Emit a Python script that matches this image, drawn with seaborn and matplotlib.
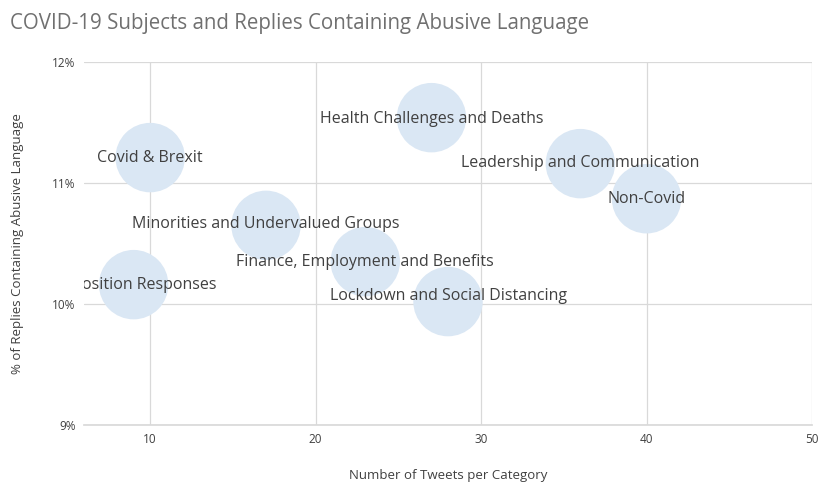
import matplotlib
matplotlib.use("Agg")
import matplotlib.pyplot as plt
import matplotlib.transforms as mtransforms
import seaborn as sns
import pandas as pd
from matplotlib.ticker import FuncFormatter

categories = ["Covid & Brexit", "Opposition Responses", "Minorities and Undervalued Groups",
              "Finance, Employment and Benefits", "Health Challenges and Deaths",
              "Lockdown and Social Distancing", "Leadership and Communication", "Non-Covid"]
tweets = [10, 9, 17, 23, 27, 28, 36, 40]
abusive_pct = [11.21, 10.16, 10.65, 10.35, 11.54, 10.02, 11.16, 10.87]
label_dy = [0, 0, 1, 0, -1, 6, 1, 0]

df = pd.DataFrame({"cat": categories, "x": tweets, "y": abusive_pct})

sns.set_theme(style="white")
plt.rcParams['font.family'] = ['Open Sans', 'DejaVu Sans']

fig = plt.figure(figsize=(8.18, 4.86), dpi=100)
ax = fig.add_axes([84/818, 1-425/486, (812-84)/818, (425-62)/486])

sns.scatterplot(data=df, x="x", y="y", s=2500, color="#DAE7F4", edgecolor="none",
                ax=ax, zorder=3, legend=False)

for c, xv, yv, dy in zip(categories, tweets, abusive_pct, label_dy):
    tr = mtransforms.offset_copy(ax.transData, fig=fig, x=0, y=dy, units="dots")
    ax.text(xv, yv, c, transform=tr, ha="center", va="center", fontsize=11.5,
            color="#404040", zorder=4, clip_on=True)

ax.set_xlim(6, 50)
ax.set_ylim(9, 12)
ax.set_xticks([10, 20, 30, 40, 50])
ax.set_yticks([9, 10, 11, 12])
ax.yaxis.set_major_formatter(FuncFormatter(lambda v, p: f"{v:.0f}%"))
ax.grid(True, color="#d9d9d9", linewidth=0.9, zorder=0)
ax.set_axisbelow(True)
for s in ["top", "right", "left"]:
    ax.spines[s].set_visible(False)
ax.spines["bottom"].set_color("#d9d9d9")
ax.tick_params(axis="both", length=0, labelsize=8.5, colors="#404040")
ax.tick_params(axis="x", pad=6)
ax.tick_params(axis="y", pad=6)

ax.set_xlabel("Number of Tweets per Category", fontsize=9.5, color="#404040", labelpad=16)
ax.set_ylabel("% of Replies Containing Abusive Language", fontsize=9.5, color="#404040", labelpad=20)

fig.text(10/818, 1-24/486, "COVID-19 Subjects and Replies Containing Abusive Language",
         fontsize=14.8, color="#707070", ha="left", va="center")

fig.savefig("out.png", dpi=100)
